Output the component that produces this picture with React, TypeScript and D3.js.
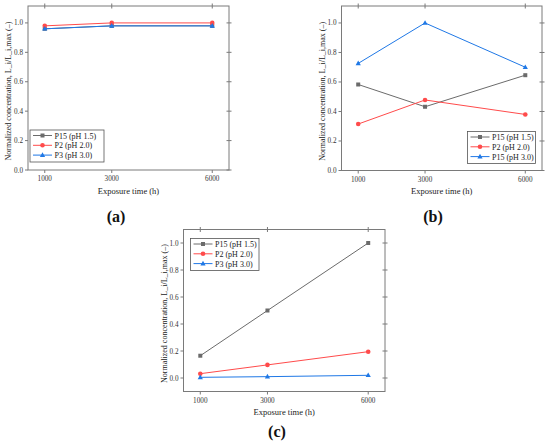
import React from "react";
import * as d3 from "d3";

const xValues = [1000, 3000, 6000];
const xTicks = [1000, 3000, 6000];
const yTicks = [0, 0.2, 0.4, 0.6, 0.8, 1.0];

const seriesNamesA = ["P15 (pH 1.5)", "P2 (pH 2.0)", "P3 (pH 3.0)"];
const seriesNamesB = ["P15 (pH 1.5)", "P2 (pH 2.0)", "P15 (pH 3.0)"];
const seriesNamesC = ["P15 (pH 1.5)", "P2 (pH 2.0)", "P3 (pH 3.0)"];

const aGray = [0.96, 0.98, 0.98];
const aRed = [0.98, 1.0, 1.0];
const aBlue = [0.96, 0.98, 0.98];

const bGray = [0.583, 0.432, 0.646];
const bRed = [0.315, 0.478, 0.38];
const bBlue = [0.726, 1.0, 0.7];

const cGray = [0.165, 0.5, 1.0];
const cRed = [0.032, 0.097, 0.195];
const cBlue = [0.005, 0.01, 0.02];

const COLORS = ["#6b6b6b", "#ff4b4b", "#1f78e6"];
const SHAPES = ["square", "circle", "triangle"];
const FONT = "'Liberation Serif', 'Times New Roman', serif";
const AXIS = "#7a7a7a";

function Marker({ shape, x, y, color }: { shape: string; x: number; y: number; color: string }) {
  if (shape === "square") return <rect x={x - 2} y={y - 2} width={4} height={4} fill={color} />;
  if (shape === "circle") return <circle cx={x} cy={y} r={2.3} fill={color} />;
  return <path d={`M${x},${y - 2.8}L${x + 2.6},${y + 1.8}L${x - 2.6},${y + 1.8}Z`} fill={color} />;
}

type PanelProps = {
  left: number; right: number; top: number; bottom: number;
  yDomain: [number, number];
  series: number[][];
  names: string[];
  legend: { x: number; y: number; w: number };
  label: string;
  labelX: number; labelY: number;
};

function Panel(p: PanelProps) {
  const x = d3.scaleLinear().domain([500, 6500]).range([p.left, p.right]);
  const y = d3.scaleLinear().domain(p.yDomain).range([p.bottom, p.top]);
  const line = d3.line<number>().x((_, i) => x(xValues[i])).y((d) => y(d));
  const midY = (p.top + p.bottom) / 2;
  const midX = (p.left + p.right) / 2;
  return (
    <g fontFamily={FONT}>
      <rect x={p.left} y={p.top} width={p.right - p.left} height={p.bottom - p.top} fill="none" stroke={AXIS} strokeWidth={1} />
      {yTicks.map((t) => (
        <g key={"y" + t}>
          <line x1={p.left - 3} x2={p.left} y1={y(t)} y2={y(t)} stroke={AXIS} />
          <line x1={p.right - 2.5} x2={p.right + 2.5} y1={y(t)} y2={y(t)} stroke={AXIS} />
          <text x={p.left - 5} y={y(t) + 2.5} fontSize={7.2} textAnchor="end" fill="#333">{t.toFixed(1)}</text>
        </g>
      ))}
      {xTicks.map((t) => (
        <g key={"x" + t}>
          <line x1={x(t)} x2={x(t)} y1={p.bottom} y2={p.bottom + 3} stroke={AXIS} />
          <line x1={x(t)} x2={x(t)} y1={p.top - 2.5} y2={p.top + 2.5} stroke={AXIS} />
          <text x={x(t)} y={p.bottom + 11} fontSize={7.2} textAnchor="middle" fill="#333">{t}</text>
        </g>
      ))}
      <text x={midX} y={p.bottom + 23.5} fontSize={8.5} textAnchor="middle" fill="#222">Exposure time (h)</text>
      <text transform={`translate(${p.left - 17},${midY + 3}) rotate(-90)`} fontSize={8} textAnchor="middle" fill="#222">
        Normalized concentration, L_i/L_i,max (–)
      </text>
      {p.series.map((s, si) => (
        <g key={"s" + si}>
          <path d={line(s) || ""} fill="none" stroke={COLORS[si]} strokeWidth={1} />
          {s.map((v, i) => (
            <Marker key={i} shape={SHAPES[si]} x={x(xValues[i])} y={y(v)} color={COLORS[si]} />
          ))}
        </g>
      ))}
      <rect x={p.legend.x} y={p.legend.y} width={p.legend.w} height={32} fill="white" stroke="#555" strokeWidth={0.8} />
      {p.names.map((n, i) => {
        const ly = p.legend.y + 5.5 + i * 9.8;
        return (
          <g key={"l" + i}>
            <line x1={p.legend.x + 3} x2={p.legend.x + 22} y1={ly} y2={ly} stroke={COLORS[i]} strokeWidth={1} />
            <Marker shape={SHAPES[i]} x={p.legend.x + 12.5} y={ly} color={COLORS[i]} />
            <text x={p.legend.x + 24.5} y={ly + 3} fontSize={8} fill="#222">{n}</text>
          </g>
        );
      })}
      <text x={p.labelX} y={p.labelY} fontSize={16} textAnchor="middle" fontWeight="bold" fill="#111">{p.label}</text>
    </g>
  );
}

export default function App() {
  return (
    <div style={{ position: "absolute", left: 0, top: 0 }}>
      <svg width={550} height={446} style={{ display: "block", background: "white" }}>
        <Panel left={28} right={229} top={6} bottom={170} yDomain={[0, 1.115]}
          series={[aGray, aRed, aBlue]} names={seriesNamesA}
          legend={{ x: 30, y: 130, w: 74 }} label="(a)" labelX={116} labelY={222} />
        <Panel left={341.5} right={542} top={6} bottom={170.5} yDomain={[0, 1.115]}
          series={[bGray, bRed, bBlue]} names={seriesNamesB}
          legend={{ x: 467.5, y: 131.5, w: 68 }} label="(b)" labelX={433} labelY={222} />
        <Panel left={183.5} right={385} top={229.5} bottom={391.5} yDomain={[-0.1, 1.1]}
          series={[cGray, cRed, cBlue]} names={seriesNamesC}
          legend={{ x: 190.5, y: 238.5, w: 68.5 }} label="(c)" labelX={277} labelY={437} />
      </svg>
    </div>
  );
}
